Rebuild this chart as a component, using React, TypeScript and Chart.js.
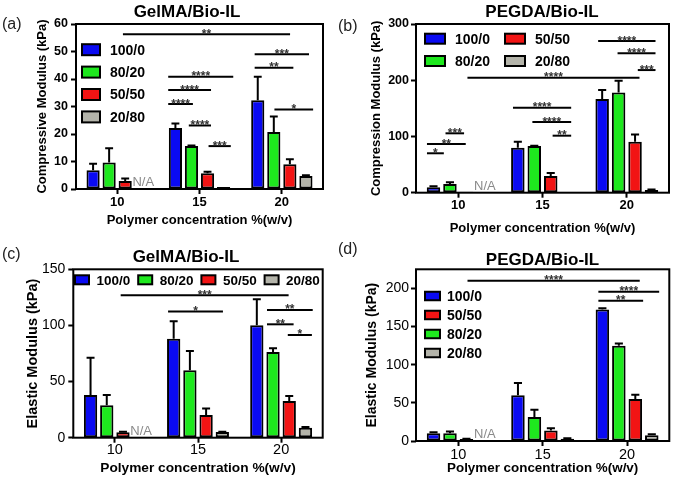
import React, { useEffect, useRef } from "react";
import { Chart, registerables } from "chart.js";
Chart.register(...registerables);

const FONT = "'Liberation Sans', Arial, Helvetica, sans-serif";

// ---- shared categories / series ----
const concentrations = ["10", "15", "20"];
const seriesNames = ["100/0", "80/20", "50/50", "20/80"];
const seriesColors = ["#0a0af2", "#1ee81e", "#f21414", "#b4b4aa"];

// ---- (a) GelMA compressive modulus (kPa) ----
const gelCompMean100 = [6.8, 22.2, 32.3];
const gelCompMean80 = [9.6, 15.6, 20.7];
const gelCompMean50 = [2.9, 5.7, 9.0];
const gelCompMean20 = [null, 0.7, 4.7];
const gelCompErr100 = [2.4, 1.6, 8.5];
const gelCompErr80 = [5.2, 0.2, 5.7];
const gelCompErr50 = [0.9, 0.6, 1.8];
const gelCompErr20 = [null, 0, 0.3];
const gelCompSig: [number, number, number, string][] = [
  [0.07, 2.1, 56.3, "**"],
  [1.67, 2.33, 49.0, "***"],
  [1.67, 2.14, 44.1, "**"],
  [1.91, 2.38, 28.9, "*"],
  [0.62, 1.41, 40.8, "****"],
  [0.62, 1.14, 36.0, "****"],
  [0.62, 0.92, 30.9, "****"],
  [0.87, 1.14, 23.1, "****"],
  [1.11, 1.38, 15.6, "***"],
];

// ---- (b) PEGDA compression modulus (kPa) ----
const pegCompMean100 = [9.5, 80.0, 166.6];
const pegCompMean80 = [15.4, 83.0, 178.4];
const pegCompMean50 = [1.5, 29.6, 90.7];
const pegCompMean20 = [null, 1.2, 4.7];
const pegCompErr100 = [1.8, 10.7, 16.0];
const pegCompErr80 = [3.0, 0.5, 20.8];
const pegCompErr50 = [0, 5.4, 13.0];
const pegCompErr20 = [null, 0, 1.2];
const pegCompSig: [number, number, number, string][] = [
  [1.66, 2.34, 269.7, "****"],
  [1.89, 2.34, 247.8, "****"],
  [2.13, 2.34, 218.1, "***"],
  [0.11, 2.15, 204.5, "****"],
  [0.65, 1.34, 151.2, "****"],
  [0.88, 1.34, 125.7, "****"],
  [1.12, 1.34, 101.4, "**"],
  [-0.15, 0.07, 105.6, "***"],
  [-0.37, 0.09, 86.6, "**"],
  [-0.37, -0.17, 70.1, "*"],
];

// ---- (c) GelMA elastic modulus (kPa) ----
const gelElaMean100 = [38.0, 88.2, 100.1];
const gelElaMean80 = [28.8, 60.0, 76.3];
const gelElaMean50 = [4.8, 20.2, 32.7];
const gelElaMean20 = [null, 5.0, 8.9];
const gelElaErr100 = [33.3, 15.5, 23.2];
const gelElaErr80 = [9.2, 17.2, 3.3];
const gelElaErr50 = [0.5, 5.9, 4.4];
const gelElaErr20 = [null, 0.3, 0.6];
const gelElaSig: [number, number, number, string][] = [
  [0.07, 2.09, 126.8, "***"],
  [0.64, 1.3, 112.3, "*"],
  [1.83, 2.38, 113.8, "**"],
  [1.83, 2.15, 101.0, "**"],
  [2.08, 2.37, 91.5, "*"],
];

// ---- (d) PEGDA elastic modulus (kPa) ----
const pegElaMean100 = [10.1, 59.8, 172.3];
const pegElaMean80 = [10.1, 31.6, 124.8];
const pegElaMean50 = [2.6, 13.6, 54.9];
const pegElaMean20 = [null, 3.1, 7.5];
const pegElaErr100 = [1.3, 16.2, 1.8];
const pegElaErr80 = [2.2, 9.3, 3.1];
const pegElaErr50 = [0.4, 3.1, 5.8];
const pegElaErr20 = [null, 0.4, 1.3];
const pegElaSig: [number, number, number, string][] = [
  [0.11, 2.15, 210.1, "****"],
  [1.66, 2.38, 195.6, "****"],
  [1.66, 2.19, 183.7, "**"],
];

type PanelCfg = {
  left: number; top: number; width: number; height: number;
  tag: string; tagPos: [number, number];
  title: string; titlePos: [number, number];
  yTitle: string; yTitleSize: number; yTitlePad: number;
  xTitleSize: number; xTitlePad: number;
  yMax: number; yStep: number;
  yTickFont: { size: number; weight: string }; yTickPad: number;
  xTickFont: { size: number; weight: string }; xTickPad: number;
  pad: { top: number; right: number }; yWidth: number; xHeight: number;
  values: (number | null)[][]; errors: (number | null)[][];
  sig: [number, number, number, string][];
  legend: {
    order: number[]; cols: number; dx: number; dy: number; colW: number; rowH: number;
    boxW: number; boxH: number; textDx: number; fontSize: number;
  };
};

const panels: PanelCfg[] = [
  {
    left: 0, top: 0, width: 337, height: 237,
    tag: "(a)", tagPos: [2, 25], title: "GelMA/Bio-IL", titlePos: [187, 12],
    yTitle: "Compressive Modulus (kPa)", yTitleSize: 13, yTitlePad: 34.2,
    xTitleSize: 13, xTitlePad: 9.2,
    yMax: 60, yStep: 10,
    yTickFont: { size: 12.5, weight: "bold" }, yTickPad: 3,
    xTickFont: { size: 13, weight: "bold" }, xTickPad: 1,
    pad: { top: 24, right: 14 }, yWidth: 76, xHeight: 48,
    values: [gelCompMean100, gelCompMean80, gelCompMean50, gelCompMean20],
    errors: [gelCompErr100, gelCompErr80, gelCompErr50, gelCompErr20],
    sig: gelCompSig,
    legend: { order: [0, 1, 2, 3], cols: 1, dx: 6, dy: 25.7, colW: 0, rowH: 22.4, boxW: 18, boxH: 11, textDx: 28, fontSize: 14 },
  },
  {
    left: 337, top: 0, width: 338, height: 237,
    tag: "(b)", tagPos: [1, 27], title: "PEGDA/Bio-IL", titlePos: [205, 12],
    yTitle: "Compression Modulus (kPa)", yTitleSize: 13, yTitlePad: 31.9,
    xTitleSize: 13, xTitlePad: 0.9,
    yMax: 300, yStep: 100,
    yTickFont: { size: 12.5, weight: "bold" }, yTickPad: 2,
    xTickFont: { size: 13, weight: "bold" }, xTickPad: 0,
    pad: { top: 24, right: 6 }, yWidth: 79, xHeight: 44.3,
    values: [pegCompMean100, pegCompMean80, pegCompMean50, pegCompMean20],
    errors: [pegCompErr100, pegCompErr80, pegCompErr50, pegCompErr20],
    sig: pegCompSig,
    legend: { order: [0, 2, 1, 3], cols: 2, dx: 9, dy: 14.7, colW: 80, rowH: 22.3, boxW: 20, boxH: 10, textDx: 30, fontSize: 14 },
  },
  {
    left: 0, top: 237, width: 337, height: 242,
    tag: "(c)", tagPos: [2, 18], title: "GelMA/Bio-IL", titlePos: [186, 20],
    yTitle: "Elastic Modulus (kPa)", yTitleSize: 14.5, yTitlePad: 24.6,
    xTitleSize: 13.7, xTitlePad: 2.5,
    yMax: 150, yStep: 50,
    yTickFont: { size: 14, weight: "normal" }, yTickPad: 3,
    xTickFont: { size: 14.5, weight: "normal" }, xTickPad: -1,
    pad: { top: 32.3, right: 14.3 }, yWidth: 73.3, xHeight: 41.3,
    values: [gelElaMean100, gelElaMean80, gelElaMean50, gelElaMean20],
    errors: [gelElaErr100, gelElaErr80, gelElaErr50, gelElaErr20],
    sig: gelElaSig,
    legend: { order: [0, 1, 2, 3], cols: 4, dx: 1.7, dy: 10.5, colW: 63.2, rowH: 0, boxW: 14, boxH: 9, textDx: 21.5, fontSize: 13.5 },
  },
  {
    left: 337, top: 237, width: 338, height: 242,
    tag: "(d)", tagPos: [1, 13], title: "PEGDA/Bio-IL", titlePos: [205.5, 23],
    yTitle: "Elastic Modulus (kPa)", yTitleSize: 14, yTitlePad: 26.3,
    xTitleSize: 13.4, xTitlePad: 2.7,
    yMax: 225, yStep: 50,
    yTickFont: { size: 14, weight: "normal" }, yTickPad: 2,
    xTickFont: { size: 14.5, weight: "normal" }, xTickPad: 0,
    pad: { top: 32.3, right: 5.7 }, yWidth: 79, xHeight: 38,
    values: [pegElaMean100, pegElaMean80, pegElaMean50, pegElaMean20],
    errors: [pegElaErr100, pegElaErr80, pegElaErr50, pegElaErr20],
    sig: pegElaSig,
    legend: { order: [0, 2, 1, 3], cols: 1, dx: 9, dy: 26.7, colW: 0, rowH: 19, boxW: 15, boxH: 8.5, textDx: 22, fontSize: 14 },
  },
];

const decorPlugin = {
  id: "decor",
  afterDatasetsDraw(chart: any, _args: any, opts: any) {
    const p: PanelCfg = opts.panel;
    if (!p) return;
    const ctx: CanvasRenderingContext2D = chart.ctx;
    const xs = chart.scales.x;
    const ys = chart.scales.y;
    const area = chart.chartArea;
    ctx.save();
    // error bars (upper only)
    p.errors.forEach((errs, di) => {
      const meta = chart.getDatasetMeta(di);
      errs.forEach((e, j) => {
        const v = p.values[di][j];
        if (v == null || e == null || e <= 0) return;
        const el: any = meta.data[j];
        const x = el.x;
        const w = el.width;
        const y0 = ys.getPixelForValue(v);
        const y1 = ys.getPixelForValue(v + e);
        ctx.strokeStyle = "#000";
        ctx.lineWidth = 2;
        ctx.beginPath();
        ctx.moveTo(x, y0);
        ctx.lineTo(x, y1);
        ctx.moveTo(x - w * 0.3, y1);
        ctx.lineTo(x + w * 0.3, y1);
        ctx.stroke();
      });
    });
    // N/A labels for missing values
    p.values.forEach((vals, di) => {
      const meta = chart.getDatasetMeta(di);
      vals.forEach((v, j) => {
        if (v != null) return;
        const el: any = meta.data[j];
        ctx.fillStyle = "#8a8a8a";
        ctx.font = `13px ${FONT}`;
        ctx.textAlign = "center";
        ctx.textBaseline = "alphabetic";
        ctx.fillText("N/A", el.x + 2, area.bottom - 3);
      });
    });
    // significance bars
    p.sig.forEach(([a, b, y, lab]) => {
      const x1 = xs.getPixelForValue(a);
      const x2 = xs.getPixelForValue(b);
      const py = ys.getPixelForValue(y);
      ctx.strokeStyle = "#000";
      ctx.lineWidth = 2;
      ctx.beginPath();
      ctx.moveTo(x1, py);
      ctx.lineTo(x2, py);
      ctx.stroke();
      ctx.fillStyle = "#333";
      ctx.font = `bold 12px ${FONT}`;
      ctx.textAlign = "center";
      ctx.textBaseline = "alphabetic";
      ctx.fillText(lab, (x1 + x2) / 2, py + 3.5);
    });
    ctx.restore();
  },
  afterDraw(chart: any, _args: any, opts: any) {
    const p: PanelCfg = opts.panel;
    if (!p) return;
    const ctx: CanvasRenderingContext2D = chart.ctx;
    const area = chart.chartArea;
    const ds = chart.data.datasets;
    ctx.save();
    // frame
    ctx.strokeStyle = "#000";
    ctx.lineWidth = 2;
    ctx.strokeRect(area.left, area.top, area.right - area.left, area.bottom - area.top);
    // legend
    const L = p.legend;
    L.order.forEach((si, k) => {
      const col = k % L.cols;
      const row = Math.floor(k / L.cols);
      const bx = area.left + L.dx + col * L.colW;
      const cy = area.top + L.dy + row * L.rowH;
      ctx.fillStyle = ds[si].backgroundColor;
      ctx.fillRect(bx, cy - L.boxH / 2, L.boxW, L.boxH);
      ctx.strokeStyle = "#000";
      ctx.lineWidth = 2;
      ctx.strokeRect(bx, cy - L.boxH / 2, L.boxW, L.boxH);
      ctx.fillStyle = "#000";
      ctx.font = `bold ${L.fontSize}px ${FONT}`;
      ctx.textAlign = "left";
      ctx.textBaseline = "middle";
      ctx.fillText(ds[si].label, bx + L.textDx, cy + 1);
    });
    // title and panel tag
    ctx.fillStyle = "#000";
    ctx.font = `bold 17px ${FONT}`;
    ctx.textAlign = "center";
    ctx.textBaseline = "middle";
    ctx.fillText(p.title, p.titlePos[0], p.titlePos[1]);
    ctx.fillStyle = "#222";
    ctx.font = `16px ${FONT}`;
    ctx.textAlign = "left";
    ctx.fillText(p.tag, p.tagPos[0], p.tagPos[1]);
    ctx.restore();
  },
};

function Panel({ cfg }: { cfg: PanelCfg }) {
  const ref = useRef<HTMLCanvasElement | null>(null);
  useEffect(() => {
    if (!ref.current) return;
    const step = cfg.yStep;
    const chart = new Chart(ref.current, {
      type: "bar",
      data: {
        labels: concentrations,
        datasets: seriesNames.map((name, i) => ({
          label: name,
          data: cfg.values[i] as any,
          backgroundColor: seriesColors[i],
          borderColor: "#000",
          borderWidth: 2,
          borderSkipped: false,
          categoryPercentage: 0.78,
          barPercentage: 0.82,
        })),
      },
      options: {
        responsive: false,
        animation: false,
        devicePixelRatio: 1,
        layout: { padding: { top: cfg.pad.top, right: cfg.pad.right, left: 0, bottom: 0 } },
        plugins: {
          legend: { display: false },
          tooltip: { enabled: false },
          title: { display: false },
          decor: { panel: cfg },
        } as any,
        scales: {
          x: {
            offset: true,
            grid: { display: true, offset: false, drawOnChartArea: false, drawTicks: true, tickLength: 5, tickColor: "#000", tickWidth: 2 },
            border: { display: false },
            ticks: { color: "#000", padding: cfg.xTickPad, font: { family: FONT, size: cfg.xTickFont.size, weight: cfg.xTickFont.weight as any }, maxRotation: 0 },
            title: {
              display: true, text: "Polymer concentration %(w/v)", color: "#000",
              font: { family: FONT, size: cfg.xTitleSize, weight: "bold" },
              padding: { top: 0, bottom: cfg.xTitlePad },
            },
            afterFit: (s: any) => { s.height = cfg.xHeight; },
          },
          y: {
            min: 0, max: cfg.yMax,
            ticks: { stepSize: step, color: "#000", padding: cfg.yTickPad, font: { family: FONT, size: cfg.yTickFont.size, weight: cfg.yTickFont.weight as any } },
            afterBuildTicks: (s: any) => {
              s.ticks = s.ticks.filter((t: any) => Math.abs(t.value / step - Math.round(t.value / step)) < 1e-6);
            },
            grid: { display: true, drawOnChartArea: false, drawTicks: true, tickLength: 5, tickColor: "#000", tickWidth: 2 },
            border: { display: false },
            title: {
              display: true, text: cfg.yTitle, color: "#000",
              font: { family: FONT, size: cfg.yTitleSize, weight: "bold" },
              padding: { top: cfg.yTitlePad, bottom: 0 },
            },
            afterFit: (s: any) => { s.width = cfg.yWidth; },
          },
        },
      },
      plugins: [decorPlugin as any],
    });
    return () => chart.destroy();
  }, [cfg]);
  return (
    <canvas
      ref={ref}
      width={cfg.width}
      height={cfg.height}
      style={{ position: "absolute", left: cfg.left, top: cfg.top, width: cfg.width, height: cfg.height }}
    />
  );
}

export default function App() {
  return (
    <div style={{ position: "absolute", left: 0, top: 0, width: 675, height: 479, background: "#fff", overflow: "hidden" }}>
      {panels.map((p, i) => (
        <Panel key={i} cfg={p} />
      ))}
    </div>
  );
}
